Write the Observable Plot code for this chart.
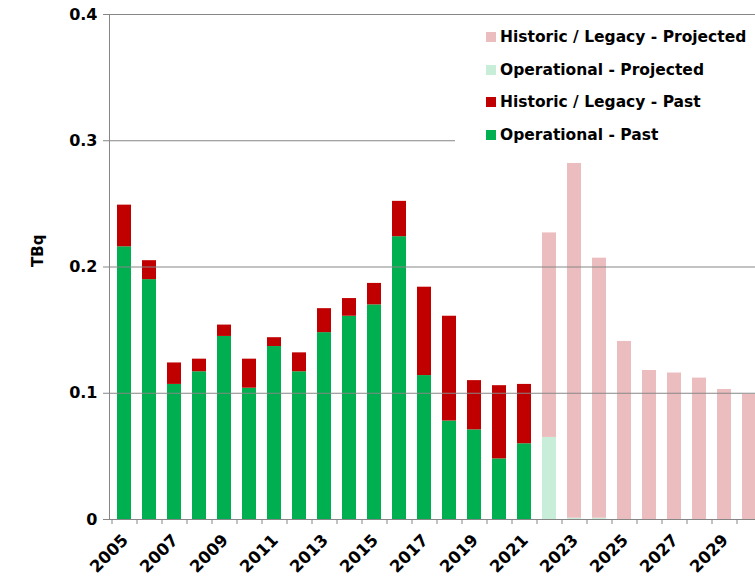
<!DOCTYPE html>
<html><head><meta charset="utf-8">
<script src="https://cdn.jsdelivr.net/npm/d3@7"></script>
<script src="https://cdn.jsdelivr.net/npm/@observablehq/plot@0.6"></script>
<style>
html,body{margin:0;padding:0;background:#fff;overflow:hidden;}
#wrap{position:relative;width:755px;height:578px;font-family:"DejaVu Sans",Verdana,sans-serif;}
#legend{position:absolute;left:455px;top:20px;width:300px;height:128px;background:#fff;}
.item{position:absolute;left:31px;height:18px;display:flex;align-items:center;font-weight:bold;font-size:15.5px;color:#000;white-space:nowrap;}
.sw{width:10px;height:10px;margin-right:4px;flex:none;}
</style></head>
<body><div id="wrap"><div id="chart"></div><div id="legend"></div></div>
<script>
const years = [2005,2006,2007,2008,2009,2010,2011,2012,2013,2014,2015,2016,2017,2018,2019,2020,2021,2022,2023,2024,2025,2026,2027,2028,2029,2030];
const operationalPast = [0.216,0.190,0.107,0.117,0.145,0.104,0.137,0.117,0.148,0.161,0.170,0.224,0.114,0.078,0.071,0.048,0.060,0,0,0,0,0,0,0,0,0];
const legacyPast      = [0.033,0.015,0.017,0.010,0.009,0.023,0.007,0.015,0.019,0.014,0.017,0.028,0.070,0.083,0.039,0.058,0.047,0,0,0,0,0,0,0,0,0];
const operationalProjected = [0,0,0,0,0,0,0,0,0,0,0,0,0,0,0,0,0,0.065,0.001,0.001,0,0,0,0,0,0];
const legacyProjected      = [0,0,0,0,0,0,0,0,0,0,0,0,0,0,0,0,0,0.162,0.281,0.206,0.141,0.118,0.116,0.112,0.103,0.099];
const seriesNames = ["Operational - Past","Historic / Legacy - Past","Operational - Projected","Historic / Legacy - Projected"];
const seriesColors = ["#00B050","#C00000","#C8EEDA","#ECBDBE"];
const yTicks = [0,0.1,0.2,0.3,0.4];
const labelYears = years.filter(y => y % 2 === 1);
const legendOrder = [3,2,1,0];

const seriesValues = [operationalPast, legacyPast, operationalProjected, legacyProjected];
const rows = [];
years.forEach((yr, i) => seriesValues.forEach((vals, s) => rows.push({year: yr, series: seriesNames[s], value: vals[i]})));

const rangeStart = 111, rangeEnd = 761;
const step = (rangeEnd - rangeStart) / years.length;
const grey = "#868686";

const chart = Plot.plot({
  width: 755, height: 578,
  marginLeft: 109, marginRight: 755 - rangeEnd, marginTop: 14, marginBottom: 59,
  style: {fontFamily: '"DejaVu Sans", Verdana, sans-serif', background: "#fff", color: "#000"},
  x: {type: "band", domain: years, paddingInner: 0.44, paddingOuter: 0.22, insetLeft: 2},
  y: {domain: [0, 0.4]},
  color: {domain: seriesNames, range: seriesColors},
  marks: [
    Plot.barY(rows, {x: "year", y: "value", fill: "series"}),
    Plot.ruleY([0.1, 0.2, 0.3, 0.4], {stroke: grey, strokeWidth: 1}),
    Plot.ruleY([0], {stroke: grey}),
    Plot.frame({anchor: "left", stroke: grey}),
    Plot.axisY({ticks: yTicks, tickFormat: d => d === 0 ? "0" : d.toFixed(1), tickSize: 6, tickPadding: 6, label: null, stroke: grey, fill: "#000", fontSize: 16, fontWeight: "bold"}),
    Plot.axisX({ticks: years, tickSize: 5, fill: "none", stroke: grey, dx: -step / 2, label: null}),
    Plot.axisX({ticks: labelYears, tickFormat: d => String(d), tickSize: 0, tickPadding: 18, tickRotate: -45, dx: 1, label: null, fill: "#000", fontSize: 16.5, fontWeight: "bold"}),
    Plot.text(["TBq"], {frameAnchor: "left", rotate: -90, dx: -71, fontSize: 15, fontWeight: "bold", fill: "#000"})
  ]
});
document.getElementById("chart").appendChild(chart);

const legend = document.getElementById("legend");
legendOrder.forEach((s, k) => {
  const item = document.createElement("div");
  item.className = "item";
  item.style.top = (8 + k * 32.7) + "px";
  const sw = document.createElement("span");
  sw.className = "sw";
  sw.style.background = seriesColors[s];
  const t = document.createElement("span");
  t.textContent = seriesNames[s];
  item.appendChild(sw); item.appendChild(t);
  legend.appendChild(item);
});
</script>
</body></html>
